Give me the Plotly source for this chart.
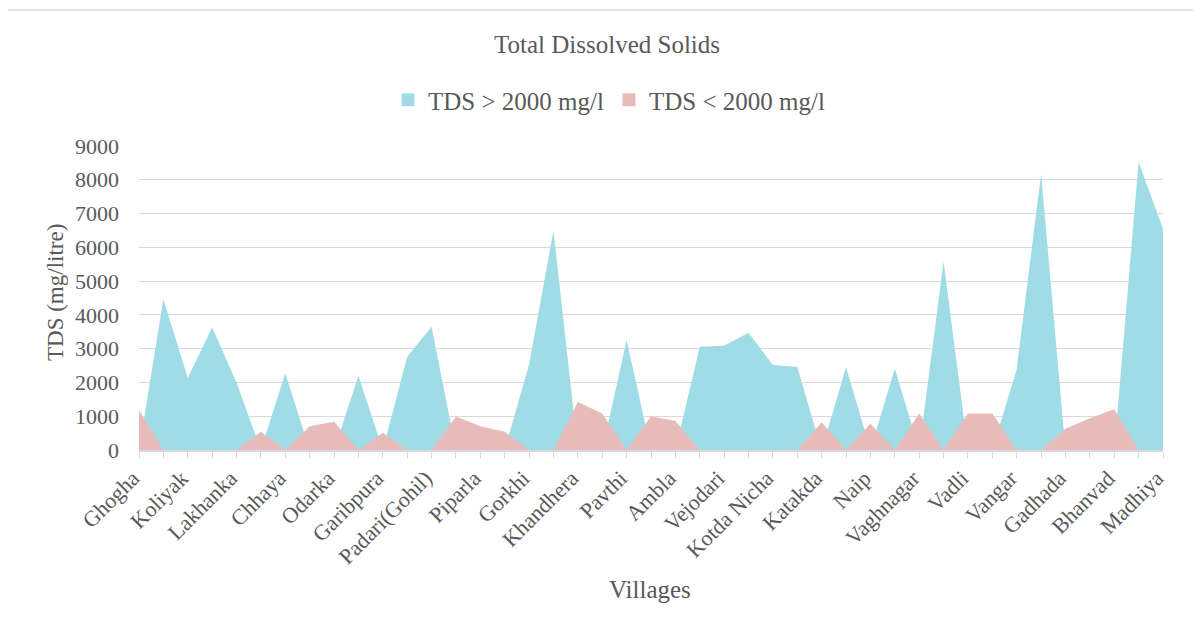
import plotly.graph_objects as go

# ---- data ----
positions = list(range(43))  # category slots along the x axis
label_positions = list(range(0, 43, 2))
villages = ["Ghogha", "Koliyak", "Lakhanka", "Chhaya", "Odarka", "Garibpura",
            "Padari(Gohil)", "Piparla", "Gorkhi", "Khandhera", "Pavthi", "Ambla",
            "Vejodari", "Kotda Nicha", "Katakda", "Naip", "Vaghnagar", "Vadli",
            "Vangar", "Gadhada", "Bhanvad", "Madhiya"]

tds_high = [0, 4470, 2130, 3630, 2000, 0, 2270, 0, 0, 2200, 0, 2760, 3650, 0, 0, 0,
            2540, 6500, 0, 0, 3260, 0, 0, 3060, 3090, 3470, 2520, 2460, 0, 2460, 0,
            2410, 0, 5580, 0, 0, 2400, 8180, 0, 0, 0, 8530, 6540]
tds_low = [1180, 0, 0, 0, 0, 540, 0, 700, 840, 0, 510, 0, 0, 990, 700, 540, 0, 0,
           1420, 1080, 0, 1000, 860, 0, 0, 0, 0, 0, 820, 0, 780, 0, 1080, 0, 1080,
           1080, 0, 0, 630, 940, 1210, 0, 0]

y_ticks = [0, 1000, 2000, 3000, 4000, 5000, 6000, 7000, 8000, 9000]

FONT = "Liberation Serif"
GRAY = "#595959"
LINE = "#d9d9d9"
BLUE = "rgb(160,220,230)"
PINK = "rgb(231,187,186)"

OFF = 8  # page body margin
L, R, T, B = 139 - OFF, 1163 - OFF, 146 - OFF, 450 - OFF
W, H = 1201, 633

def px_x(px):
    return (px - OFF - L) / (R - L)

def px_y(py):
    return (B - (py - OFF)) / (B - T)

fig = go.Figure()
fig.add_trace(go.Scatter(
    x=positions, y=tds_high, name="TDS > 2000 mg/l", mode="lines",
    line=dict(width=0, color=BLUE), fill="tozeroy", fillcolor=BLUE,
    showlegend=False, legendgroup="high"))
fig.add_trace(go.Scatter(
    x=positions, y=tds_low, name="TDS < 2000 mg/l", mode="lines",
    line=dict(width=0, color=PINK), fill="tozeroy", fillcolor=PINK,
    showlegend=False, legendgroup="low"))
# legend swatches (square markers)
fig.add_trace(go.Scatter(x=[None], y=[None], mode="markers", name="TDS > 2000 mg/l",
                         marker=dict(symbol="square", size=13, color=BLUE),
                         legendgroup="high"))
fig.add_trace(go.Scatter(x=[None], y=[None], mode="markers", name="TDS < 2000 mg/l",
                         marker=dict(symbol="square", size=13, color=PINK),
                         legendgroup="low"))

fig.update_layout(
    width=W, height=H,
    margin=dict(l=L, r=W - R, t=T, b=H - B),
    paper_bgcolor="white", plot_bgcolor="white",
    font=dict(family=FONT, color=GRAY, size=22),
    title=dict(text="Total Dissolved Solids", x=(607 - OFF) / W, xanchor="center",
               y=1 - (44 - OFF) / H, yanchor="middle",
               font=dict(family=FONT, size=25, color=GRAY)),
    showlegend=True,
    legend=dict(orientation="h", x=px_x(609), xanchor="center",
                y=px_y(100), yanchor="middle",
                font=dict(family=FONT, size=25, color=GRAY),
                itemwidth=30, traceorder="normal", bgcolor="rgba(0,0,0,0)"),
    xaxis=dict(range=[0, 42], tickvals=label_positions, ticktext=villages,
               tickangle=-45, showgrid=False, zeroline=False,
               showline=True, linecolor=LINE, linewidth=1.5,
               ticks="", ticklabelshift=-6, ticklabelstandoff=5,
               tickfont=dict(family=FONT, size=22, color=GRAY)),
    yaxis=dict(range=[0, 9000], tickvals=y_ticks, showgrid=True,
               gridcolor=LINE, gridwidth=1, zeroline=False, showline=False,
               ticks="", ticklabelstandoff=19,
               tickfont=dict(family=FONT, size=22, color=GRAY)),
)

# tick marks at every category slot
fig.update_xaxes(minor=dict(tickvals=positions, ticks="outside", ticklen=6,
                            tickcolor=LINE, tickwidth=1))

# axis titles
fig.add_annotation(text="TDS (mg/litre)", xref="paper", yref="paper",
                   x=px_x(55), y=px_y(293), textangle=-90, showarrow=False,
                   xanchor="center", yanchor="middle",
                   font=dict(family=FONT, size=23, color=GRAY))
fig.add_annotation(text="Villages", xref="paper", yref="paper",
                   x=px_x(650), y=px_y(589), showarrow=False,
                   xanchor="center", yanchor="middle",
                   font=dict(family=FONT, size=25, color=GRAY))

# chart border
fig.add_shape(type="rect", xref="paper", yref="paper",
              x0=px_x(7), x1=px_x(1240), y0=px_y(680), y1=px_y(10),
              line=dict(color=LINE, width=1.5), fillcolor="rgba(0,0,0,0)",
              layer="below")

fig.write_html("out.html")
